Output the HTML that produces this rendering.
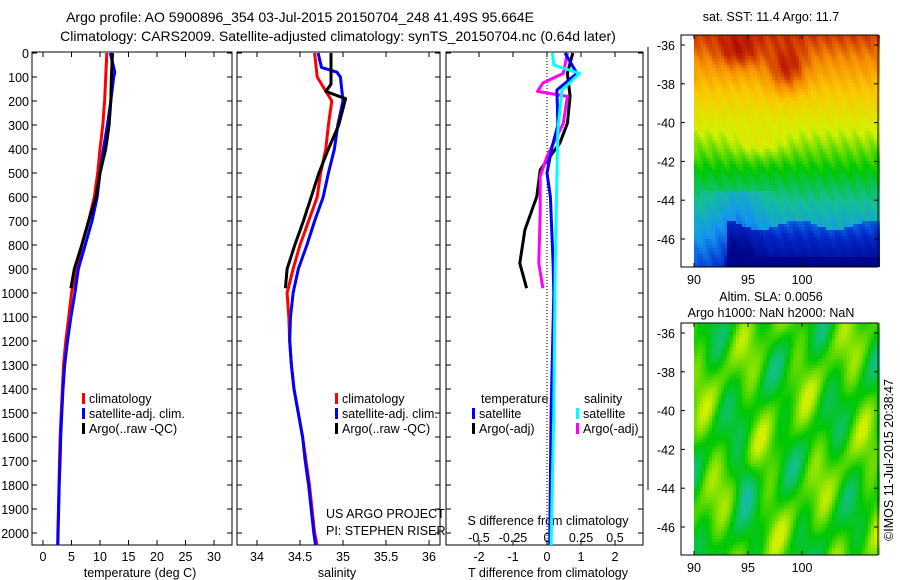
<!DOCTYPE html>
<html><head><meta charset="utf-8">
<style>
body{margin:0;background:#fff;}
svg{display:block;font-family:"Liberation Sans",sans-serif;font-size:12.5px;}
</style></head>
<body>
<svg id="chart" width="900" height="580" viewBox="0 0 900 580">
<text x="300" y="22" text-anchor="middle" font-size="14">Argo profile: AO 5900896_354 03-Jul-2015 20150704_248 41.49S 95.664E</text>
<text x="338" y="41" text-anchor="middle" font-size="14">Climatology: CARS2009. Satellite-adjusted climatology: synTS_20150704.nc (0.64d later)</text>
<g id="g"></g>
</svg>
<script>
// ---- data ----
const depthTicks=[0,100,200,300,400,500,600,700,800,900,1000,1100,1200,1300,1400,1500,1600,1700,1800,1900,2000];
const tempTicks=[0,5,10,15,20,25,30];
const salTicks=[34,34.5,35,35.5,36];
const salTickLabels=["34","34.5","35","35.5","36"];
const tdTicks=[-2,-1,0,1,2];
const sdTicks=[-0.5,-0.25,0,0.25,0.5];
const sdTickLabels=["-0.5","-0.25","0","0.25","0.5"];

const climDepth=[0,100,200,300,400,500,600,700,800,900,1000,1100,1200,1300,1400,1500,1600,1700,1800,1900,2000,2050];
const climTemp=[11.2,11.0,10.8,10.5,10.0,9.6,9.0,8.0,6.8,5.8,5.0,4.5,4.0,3.6,3.4,3.2,3.0,2.9,2.8,2.7,2.6,2.6];
const satDepth=[0,80,100,200,300,400,500,600,700,800,900,1000,1100,1200,1300,1400,1500,1600,1700,1800,1900,2000,2050];
const satTemp=[11.8,12.6,12.4,11.9,11.3,10.6,10.0,9.5,8.6,7.4,6.2,5.6,4.9,4.3,3.8,3.5,3.3,3.1,3.0,2.85,2.75,2.65,2.6];
const argoDepth=[0,100,200,300,400,500,600,700,800,900,980];
const argoTemp=[12.2,12.0,11.9,11.6,11.0,10.0,9.3,8.0,6.8,5.5,4.9];

const climSal=[34.67,34.70,34.87,34.83,34.80,34.74,34.70,34.60,34.50,34.42,34.35,34.37,34.38,34.40,34.43,34.48,34.53,34.57,34.61,34.64,34.67,34.70];
const satSalDepth=[0,60,80,100,200,300,400,500,600,700,800,900,1000,1100,1200,1300,1400,1500,1600,1700,1800,1900,2000,2050];
const satSal=[34.71,34.75,34.93,34.97,35.0,34.94,34.90,34.83,34.77,34.67,34.58,34.48,34.42,34.39,34.38,34.40,34.43,34.48,34.53,34.56,34.60,34.63,34.66,34.68];
const argoSalDepth=[0,130,160,180,190,300,400,500,600,700,800,900,980];
const argoSal=[34.86,34.86,34.80,34.95,35.03,34.95,34.83,34.72,34.63,34.54,34.44,34.35,34.33];

const tdSatDepth=[0,85,154,300,390,500,600,876,1000,1500,2050];
const tdSat=[0.53,0.88,0.29,0.32,0.15,0.0,0.1,0.18,0.2,0.12,0.08];
const tdArgoDepth=[0,85,181,293,375,487,598,737,876,980];
const tdArgo=[0.76,0.6,0.68,0.6,0.38,-0.2,-0.3,-0.65,-0.8,-0.6];
const sdSatDepth=[0,50,85,154,320,598,900,1500,2050];
const sdSat=[0.04,0.05,0.24,0.11,0.08,0.07,0.06,0.05,0.03];
const sdArgoDepth=[0,85,125,160,181,293,431,514,667,876,980];
const sdArgo=[0.15,0.12,-0.03,-0.07,0.15,0.12,0.0,-0.05,-0.05,-0.06,-0.03];

const latTicks=[-36,-38,-40,-42,-44,-46];
const lonTicks=[90,95,100];

// ---- helpers ----
const NS="http://www.w3.org/2000/svg";
const root=document.getElementById('g');
function mk(tag,attrs,parent){const e=document.createElementNS(NS,tag);for(const k in attrs)e.setAttribute(k,attrs[k]);(parent||root).appendChild(e);return e;}
const yD=d=>53+d*0.24;
const xT=v=>43+v*5.7;
const xS=v=>257+(v-34)*86;
const xTD=v=>547+v*34;
const xSD=v=>547+v*136;

function frame(x0,x1,name){
  const r=mk('rect',{x:x0,y:52,width:x1-x0,height:493,fill:'none',stroke:'#000','stroke-width':1});
  
  
  depthTicks.forEach(d=>{
    mk('line',{x1:x0,x2:x0+5,y1:yD(d),y2:yD(d),stroke:'#000'});
    mk('line',{x1:x1-5,x2:x1,y1:yD(d),y2:yD(d),stroke:'#000'});
  });
}
function xticks(vals,fx,labels,y,name){
  vals.forEach((v,i)=>{
    mk('line',{x1:fx(v),x2:fx(v),y1:52,y2:57,stroke:'#000'});
    mk('line',{x1:fx(v),x2:fx(v),y1:540,y2:545,stroke:'#000'});
    const t=mk('text',{x:fx(v),y:y,'text-anchor':'middle'});
    t.textContent=labels?labels[i]:String(v);
    
    
  });
}
function line(ds,vs,fx,color,name){
  const p=mk('polyline',{points:ds.map((d,i)=>fx(vs[i]).toFixed(1)+','+yD(d).toFixed(1)).join(' '),fill:'none',stroke:color,'stroke-width':3,'stroke-linejoin':'round'});
  
  
}
function text(x,y,s,name,anchor){
  const t=mk('text',{x:x,y:y,'text-anchor':anchor||'start'});
  t.textContent=s;
  
  
  return t;
}
function legend(x,y,color,label,name){
  const r=mk('rect',{x:x,y:y-10,width:3,height:11,fill:color});
  
  
  text(x+7,y,label,name);
}

// depth labels
depthTicks.forEach(d=>{
  const t=mk('text',{x:29,y:yD(d)+5,'text-anchor':'end'});
  t.textContent=String(d);
  
  
});

// panel 1
frame(32,232,'temperature-panel');
xticks(tempTicks,xT,null,561,'temperature-tick-label');
text(140,577,'temperature (deg C)','temperature-axis-title','middle');
line(climDepth,climTemp,xT,'#f00','climatology-temperature-line');
line(satDepth,satTemp,xT,'#00f','satellite-temperature-line');
line(argoDepth,argoTemp,xT,'#000','argo-temperature-line');
legend(82,403,'#f00','climatology','legend-climatology');
legend(82,418,'#00f','satellite-adj. clim.','legend-satellite');
legend(82,433,'#000','Argo(..raw -QC)','legend-argo');

// panel 2
frame(237,440,'salinity-panel');
xticks(salTicks,xS,salTickLabels,561,'salinity-tick-label');
text(337,577,'salinity','salinity-axis-title','middle');
line(climDepth,climSal,xS,'#f00','climatology-salinity-line');
line(satSalDepth,satSal,xS,'#00f','satellite-salinity-line');
line(argoSalDepth,argoSal,xS,'#000','argo-salinity-line');
legend(335,403,'#f00','climatology','legend-climatology-2');
legend(335,418,'#00f','satellite-adj. clim.','legend-satellite-2');
legend(335,433,'#000','Argo(..raw -QC)','legend-argo-2');
text(326,518,'US ARGO PROJECT','project-note');
text(326,535,'PI: STEPHEN RISER','pi-note');

// panel 3
frame(446,643,'difference-panel');
mk('line',{x1:547,x2:547,y1:52,y2:545,stroke:'#000','stroke-dasharray':'1,2'});
xticks(tdTicks,xTD,null,561,'t-diff-tick-label');
sdTicks.forEach((v,i)=>{text(xSD(v),542,sdTickLabels[i],'s-diff-tick-label','middle');});
text(548,525,'S difference from climatology','s-diff-axis-title','middle');
text(548,577,'T difference from climatology','t-diff-axis-title','middle');
line(tdArgoDepth,tdArgo,xTD,'#000','argo-t-diff-line');
line(sdArgoDepth,sdArgo,xSD,'#f0f','argo-s-diff-line');
line(tdSatDepth,tdSat,xTD,'#00f','satellite-t-diff-line');
line(sdSatDepth,sdSat,xSD,'#0ff','satellite-s-diff-line');
text(481,403,'temperature','legend-temperature-header');
text(584,403,'salinity','legend-salinity-header');
legend(472,418,'#00f','satellite','legend-t-satellite');
legend(472,433,'#000','Argo(-adj)','legend-t-argo');
legend(576,418,'#0ff','satellite','legend-s-satellite');
legend(576,433,'#f0f','Argo(-adj)','legend-s-argo');

// stray frame line
mk('line',{x1:648,x2:648,y1:47,y2:490,stroke:'#000'});

// ---- maps ----
const cmapStops=[[0,[0,0,130]],[0.15,[0,40,200]],[0.28,[20,150,240]],[0.4,[20,190,150]],[0.5,[0,200,0]],[0.62,[210,240,0]],[0.74,[250,200,0]],[0.84,[245,140,0]],[0.93,[200,40,0]],[1,[150,0,0]]];
function cmap(v){v=Math.max(0,Math.min(1,v));
  for(let i=1;i<cmapStops.length;i++){if(v<=cmapStops[i][0]){const a=cmapStops[i-1],b=cmapStops[i],t=(v-a[0])/(b[0]-a[0]);
    return 'rgb('+a[1].map((c,k)=>Math.round(c+(b[1][k]-c)*t)).join(',')+')';}}
  return 'rgb(150,0,0)';}
function mapPanel(top,latY0,field,name){
  const x0=681,x1=878,dx0=694,bot=top+232;
  const grp=mk('g',{});
  
  
  const cs=3;
  for(let y=top;y<bot;y+=cs){for(let x=dx0;x<x1;x+=cs){
    const lon=90+(x-dx0)/10.8, lat=-36-(y-latY0)/19.4;
    mk('rect',{x:x,y:y,width:cs,height:Math.min(cs,bot-y),fill:cmap(field(lon,lat))},grp);
  }}
  mk('rect',{x:x0,y:top,width:x1-x0,height:232,fill:'none',stroke:'#000'});
  latTicks.forEach(l=>{const y=latY0+(-36-l)*19.4;
    mk('line',{x1:x0,x2:x0+4,y1:y,y2:y,stroke:'#000'});mk('line',{x1:x1-4,x2:x1,y1:y,y2:y,stroke:'#000'});
    text(675,y+5,String(l),name+'-lat-label','end');});
  lonTicks.forEach(l=>{const x=dx0+(l-90)*10.8;
    mk('line',{x1:x,x2:x,y1:bot-4,y2:bot,stroke:'#000'});mk('line',{x1:x,x2:x,y1:top,y2:top+4,stroke:'#000'});
    text(x,bot+17,String(l),name+'-lon-label','middle');});
}
function sst(lon,lat){
  let v=0.64+(lat+40)*0.06;
  v+=0.13*Math.exp(-((lon-98.5)**2/3+(lat+37.3)**2/1.5));
  v+=0.09*Math.exp(-((lon-94)**2/4+(lat+36.3)**2/0.8));
  v+=0.06*Math.exp(-((lon-96)**2/6+(lat+41)**2/0.6));
  if(lat<-43.5) v-=0.08*Math.exp(-((lon-94)**2/5));
  const edge=-45.2+0.25*Math.sin(lon*0.9);
  if(lat<edge&&lon>93) v-=0.12+0.04*Math.min(1,(edge-lat)/1.5);
  if(lat<-46.8&&lon>92.5) v-=0.06;
  v+=0.015*Math.sin(lon*5.1+lat*3.3);
  return Math.max(0.02,Math.min(0.99,v));
}
function sla(lon,lat){
  let v=0.52+0.045*Math.sin(lon*1.3+lat*0.4)+0.04*Math.cos(lat*1.1-lon*0.7)+0.03*Math.sin(lon*2.1-lat*1.7);
  v-=0.08*Math.exp(-((lon-94.5)**2/0.8+(lat+43.5)**2/1.5));
  return v;
}
text(771,21,'sat. SST: 11.4 Argo: 11.7','sst-map-title','middle');
mapPanel(35,45,sst,'sst-map');
text(771,301,'Altim. SLA: 0.0056','sla-map-title','middle');
text(771,317,'Argo h1000: NaN h2000: NaN','sla-map-subtitle','middle');
mapPanel(323,333,sla,'sla-map');
const c=text(0,0,'©IMOS 11-Jul-2015 20:38:47','imos-credit','middle');
c.setAttribute('transform','translate(893,460) rotate(-90)');
</script>
</body></html>
